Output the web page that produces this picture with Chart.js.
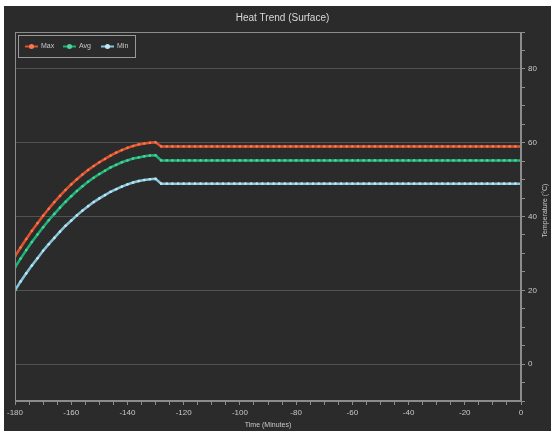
<!DOCTYPE html>
<html>
<head>
<meta charset="utf-8">
<script src="https://cdn.jsdelivr.net/npm/chart.js@4.4.1/dist/chart.umd.min.js"></script>
<style>
  html, body { margin: 0; background: #fff; }
  #wrap { position: absolute; left: 4px; top: 6px; width: 547px; height: 425px; background: #2b2b2b; }
</style>
</head>
<body>
<div id="wrap"><canvas id="heat"></canvas></div>
<script>
// time in minutes (x axis)
const minutes = [
  -180, -178, -176, -174, -172, -170, -168, -166, -164, -162, -160, -158, -156,
  -154, -152, -150, -148, -146, -144, -142, -140, -138, -136, -134, -132, -130,
  -128, -126, -124, -122, -120, -118, -116, -114, -112, -110, -108, -106, -104,
  -102, -100, -98, -96, -94, -92, -90, -88, -86, -84, -82, -80, -78, -76,
  -74, -72, -70, -68, -66, -64, -62, -60, -58, -56, -54, -52, -50, -48,
  -46, -44, -42, -40, -38, -36, -34, -32, -30, -28, -26, -24, -22, -20,
  -18, -16, -14, -12, -10, -8, -6, -4, -2, 0
];

const maxTemp = [
  29.2, 31.6, 33.9, 36.1, 38.2, 40.2, 42.1, 43.9, 45.6, 47.2, 48.7, 50.1, 51.4,
  52.6, 53.7, 54.7, 55.6, 56.5, 57.3, 58.0, 58.6, 59.1, 59.5, 59.8, 60.0, 60.1,
  59.0, 59.0, 59.0, 59.0, 59.0, 59.0, 59.0, 59.0, 59.0, 59.0, 59.0, 59.0, 59.0,
  59.0, 59.0, 59.0, 59.0, 59.0, 59.0, 59.0, 59.0, 59.0, 59.0, 59.0, 59.0, 59.0,
  59.0, 59.0, 59.0, 59.0, 59.0, 59.0, 59.0, 59.0, 59.0, 59.0, 59.0, 59.0, 59.0,
  59.0, 59.0, 59.0, 59.0, 59.0, 59.0, 59.0, 59.0, 59.0, 59.0, 59.0, 59.0, 59.0,
  59.0, 59.0, 59.0, 59.0, 59.0, 59.0, 59.0, 59.0, 59.0, 59.0, 59.0, 59.0, 59.0
];

const avgTemp = [
  26.2, 28.6, 30.9, 33.1, 35.1, 37.1, 39.0, 40.7, 42.4, 44.0, 45.5, 46.9, 48.2,
  49.4, 50.5, 51.5, 52.4, 53.3, 54.0, 54.7, 55.2, 55.7, 56.0, 56.3, 56.5, 56.6,
  55.2, 55.2, 55.2, 55.2, 55.2, 55.2, 55.2, 55.2, 55.2, 55.2, 55.2, 55.2, 55.2,
  55.2, 55.2, 55.2, 55.2, 55.2, 55.2, 55.2, 55.2, 55.2, 55.2, 55.2, 55.2, 55.2,
  55.2, 55.2, 55.2, 55.2, 55.2, 55.2, 55.2, 55.2, 55.2, 55.2, 55.2, 55.2, 55.2,
  55.2, 55.2, 55.2, 55.2, 55.2, 55.2, 55.2, 55.2, 55.2, 55.2, 55.2, 55.2, 55.2,
  55.2, 55.2, 55.2, 55.2, 55.2, 55.2, 55.2, 55.2, 55.2, 55.2, 55.2, 55.2, 55.2
];

const minTemp = [
  20.0, 22.4, 24.6, 26.7, 28.7, 30.7, 32.5, 34.2, 35.9, 37.5, 38.9, 40.3, 41.6,
  42.8, 43.9, 44.9, 45.8, 46.7, 47.4, 48.1, 48.7, 49.2, 49.6, 49.9, 50.1, 50.2,
  48.9, 48.9, 48.9, 48.9, 48.9, 48.9, 48.9, 48.9, 48.9, 48.9, 48.9, 48.9, 48.9,
  48.9, 48.9, 48.9, 48.9, 48.9, 48.9, 48.9, 48.9, 48.9, 48.9, 48.9, 48.9, 48.9,
  48.9, 48.9, 48.9, 48.9, 48.9, 48.9, 48.9, 48.9, 48.9, 48.9, 48.9, 48.9, 48.9,
  48.9, 48.9, 48.9, 48.9, 48.9, 48.9, 48.9, 48.9, 48.9, 48.9, 48.9, 48.9, 48.9,
  48.9, 48.9, 48.9, 48.9, 48.9, 48.9, 48.9, 48.9, 48.9, 48.9, 48.9, 48.9, 48.9
];

const seriesNames = ['Max', 'Avg', 'Min'];
const lineColors = ['#e2532c', '#1fb377', '#86c6dc'];
const dotColors = ['#f27a55', '#4fd39c', '#c4e6f2'];

const FONT = '"Liberation Sans", Arial, sans-serif';
const TEXT = '#c8c8c8';

function toPoints(vals) {
  return minutes.map((m, i) => ({ x: m, y: vals[i] }));
}

// frame, legend box and right axis title
const decorations = {
  id: 'decorations',
  afterDraw(chart) {
    const ctx = chart.ctx;
    const a = chart.chartArea;
    ctx.save();
    ctx.strokeStyle = '#8c8c8c';
    ctx.lineWidth = 1;
    ctx.strokeRect(a.left + 0.5, a.top + 0.5, a.right - a.left - 1, a.bottom - a.top - 1);

    // legend
    const lx = a.left + 3, ly = a.top + 3, lw = 117, lh = 22;
    ctx.strokeStyle = '#9a9a9a';
    ctx.strokeRect(lx + 0.5, ly + 0.5, lw, lh);
    ctx.font = '7px ' + FONT;
    ctx.textBaseline = 'middle';
    ctx.textAlign = 'left';
    chart.data.datasets.forEach((ds, i) => {
      const x0 = lx + 7 + i * 38;
      const y0 = ly + lh / 2 + 0.5;
      ctx.strokeStyle = ds.borderColor;
      ctx.lineWidth = 2;
      ctx.beginPath();
      ctx.moveTo(x0, y0);
      ctx.lineTo(x0 + 13, y0);
      ctx.stroke();
      ctx.fillStyle = ds.pointBackgroundColor;
      ctx.beginPath();
      ctx.arc(x0 + 6.5, y0, 2.5, 0, Math.PI * 2);
      ctx.fill();
      ctx.fillStyle = TEXT;
      ctx.fillText(ds.label, x0 + 16, y0);
    });

    // y axis title, reading bottom to top
    ctx.translate(chart.width - 6, (a.top + a.bottom) / 2 - 6);
    ctx.rotate(-Math.PI / 2);
    ctx.textAlign = 'center';
    ctx.fillStyle = TEXT;
    ctx.font = '7px ' + FONT;
    ctx.fillText('Temperature (\u00b0C)', 0, 0);
    ctx.restore();
  }
};

new Chart(document.getElementById('heat'), {
  type: 'line',
  data: {
    datasets: [maxTemp, avgTemp, minTemp].map((vals, i) => ({
      label: seriesNames[i],
      data: toPoints(vals),
      borderColor: lineColors[i],
      borderWidth: 2.5,
      pointRadius: 1.3,
      pointBorderWidth: 0,
      pointBackgroundColor: dotColors[i],
      tension: 0
    }))
  },
  options: {
    responsive: true,
    maintainAspectRatio: false,
    animation: false,
    layout: { padding: { left: 10, right: 0, top: 0, bottom: 0 } },
    plugins: {
      legend: { display: false },
      tooltip: { enabled: false },
      title: {
        display: true,
        text: 'Heat Trend (Surface)',
        color: '#d8d8d8',
        font: { family: FONT, size: 10, weight: 'normal' },
        padding: { top: 6, bottom: 8 }
      }
    },
    scales: {
      x: {
        type: 'linear',
        min: -180,
        max: 0,
        afterFit(s) { s.height = 30; },
        border: { color: '#8c8c8c' },
        grid: { drawOnChartArea: false, tickColor: '#8c8c8c', tickLength: 4 },
        ticks: {
          stepSize: 5,
          autoSkip: false,
          maxRotation: 0,
          padding: 3,
          color: TEXT,
          font: { family: FONT, size: 8 },
          callback: v => (v % 20 === 0 ? String(v) : '')
        },
        title: {
          display: true,
          text: 'Time (Minutes)',
          color: TEXT,
          font: { family: FONT, size: 7 },
          padding: { top: 0, bottom: 2 }
        }
      },
      y: {
        position: 'right',
        min: -10,
        max: 90,
        afterFit(s) { s.width = 30; },
        border: { color: '#8c8c8c' },
        grid: {
          color: c => (c.tick && c.tick.value % 20 === 0 ? '#525252' : 'rgba(0,0,0,0)'),
          tickColor: '#8c8c8c',
          tickLength: 4
        },
        ticks: {
          stepSize: 5,
          autoSkip: false,
          padding: 3,
          color: TEXT,
          font: { family: FONT, size: 8 },
          callback: v => (v % 20 === 0 ? String(v) : '')
        }
      }
    }
  },
  plugins: [decorations]
});
</script>
</body>
</html>
